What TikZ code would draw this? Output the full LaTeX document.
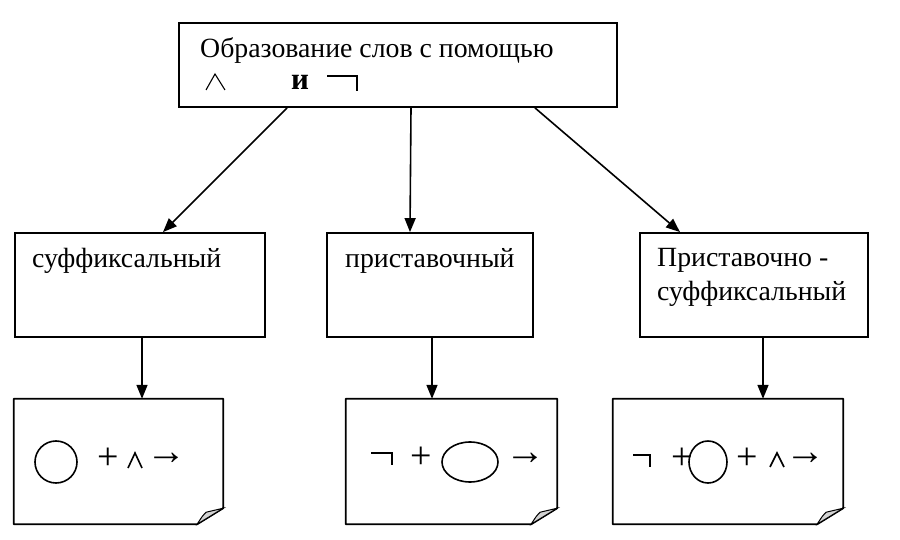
\documentclass[tikz,border=0pt]{standalone}
\usepackage{fontspec}
\setmainfont{Liberation Serif}
\usetikzlibrary{arrows.meta,calc}
\begin{document}
\begin{tikzpicture}[x=1pt,y=-1pt,
  box/.style={draw,line width=1.8pt,rectangle,inner sep=0pt},
  lbl/.style={anchor=base west,inner sep=0pt,font=\fontsize{27.8}{32}\selectfont},
  arr/.style={line width=1.6pt,-{Triangle[length=14pt,width=11pt]}},
  sym/.style={line width=1.6pt},
  notebox/.style={draw=none,rectangle,inner sep=0pt,minimum height=125pt},
  fold/.style={fill=gray!35,draw,line width=1pt},
  symtext/.style={inner sep=0pt,font=\fontsize{38}{40}\selectfont},
  arrtext/.style={inner sep=0pt,font=\fontsize{40}{42}\selectfont}
]
\useasboundingbox (0,0) rectangle (900,540);
\fill[white] (0,0) rectangle (900,540);

% top box
\node[box,minimum width=438pt,minimum height=84pt] (top) at (398,65) {};
\node[lbl] (t1) at (200,58) {Образование слов с помощью};
\node[lbl,font=\bfseries\fontsize{31}{34}\selectfont] (t2) at (291,90) {и};
\draw[line width=1.1pt] (206,90) -- (215,74) -- (225,90);
\draw[sym] (327,76) -- (357,76) -- (357,91);

% middle boxes
\node[box,minimum width=250pt,minimum height=104pt] (m1) at (140,285) {};
\node[box,minimum width=206pt,minimum height=104pt] (m2) at (430,285) {};
\node[box,minimum width=228pt,minimum height=104pt] (m3) at (754,285) {};
\node[lbl] (l1) at (32,268) {суффиксальный};
\node[lbl] (l2) at (345,268) {приставочный};
\node[lbl] (l3) at (657,267) {Приставочно -};
\node[lbl] (l4) at (657,300) {суффиксальный};

% bottom note boxes
\node[notebox,minimum width=209pt] (n1) at (118.5,461.5) {};
\node[notebox,minimum width=211pt] (n2) at (451.5,461.5) {};
\node[notebox,minimum width=230pt] (n3) at (728,461.5) {};
\foreach \n in {n1,n2,n3}{
  \draw[line width=1.8pt,line join=round] (\n.north west) -- (\n.north east) -- ($(\n.south east)+(0,-16)$) -- ($(\n.south east)+(-26,0)$) -- (\n.south west) -- cycle;
  \draw[fold] ($(\n.south east)+(0,-16)$) -- ($(\n.south east)+(-17,-12)$) .. controls ($(\n.south east)+(-21,-8)$) .. ($(\n.south east)+(-26,0)$) -- cycle;
}

% connectors
\draw[arr] ([xshift=-111pt]top.south) -- ([xshift=23pt]m1.north);
\draw[arr] ([xshift=13pt]top.south) -- ([xshift=-20pt]m2.north);
\draw[arr] ([xshift=137pt]top.south) -- ([xshift=-74pt]m3.north);
\draw[arr] ([xshift=2pt]m1.south) -- ([xshift=2pt]m1.south |- n1.north);
\draw[arr] ([xshift=2pt]m2.south) -- ([xshift=2pt]m2.south |- n2.north);
\draw[arr] ([xshift=9pt]m3.south) -- ([xshift=9pt]m3.south |- n3.north);

% contents of n1
\draw[sym] (56,462) circle[x radius=21pt,y radius=21pt];
\node[symtext] (p1) at (108,459) {+};
\draw[sym] (128,468) -- (135,453) -- (142,468);
\node[arrtext] (a1) at (166,459) {→};

% contents of n2
\draw[sym] (371,453) -- (392,453) -- (392,465);
\node[symtext] (p2) at (421,458) {+};
\draw[sym] (470,462) ellipse[x radius=28pt,y radius=20pt];
\node[arrtext] (a2) at (525,459) {→};

% contents of n3
\draw[sym] (633,455) -- (650,455) -- (650,467);
\node[symtext] (p3) at (682,459) {+};
\draw[sym] (708,462) ellipse[x radius=19pt,y radius=21pt];
\node[symtext] (p4) at (747,459) {+};
\draw[sym] (770,467) -- (777,453) -- (784,467);
\node[arrtext] (a3) at (805,459) {→};
\end{tikzpicture}
\end{document}
